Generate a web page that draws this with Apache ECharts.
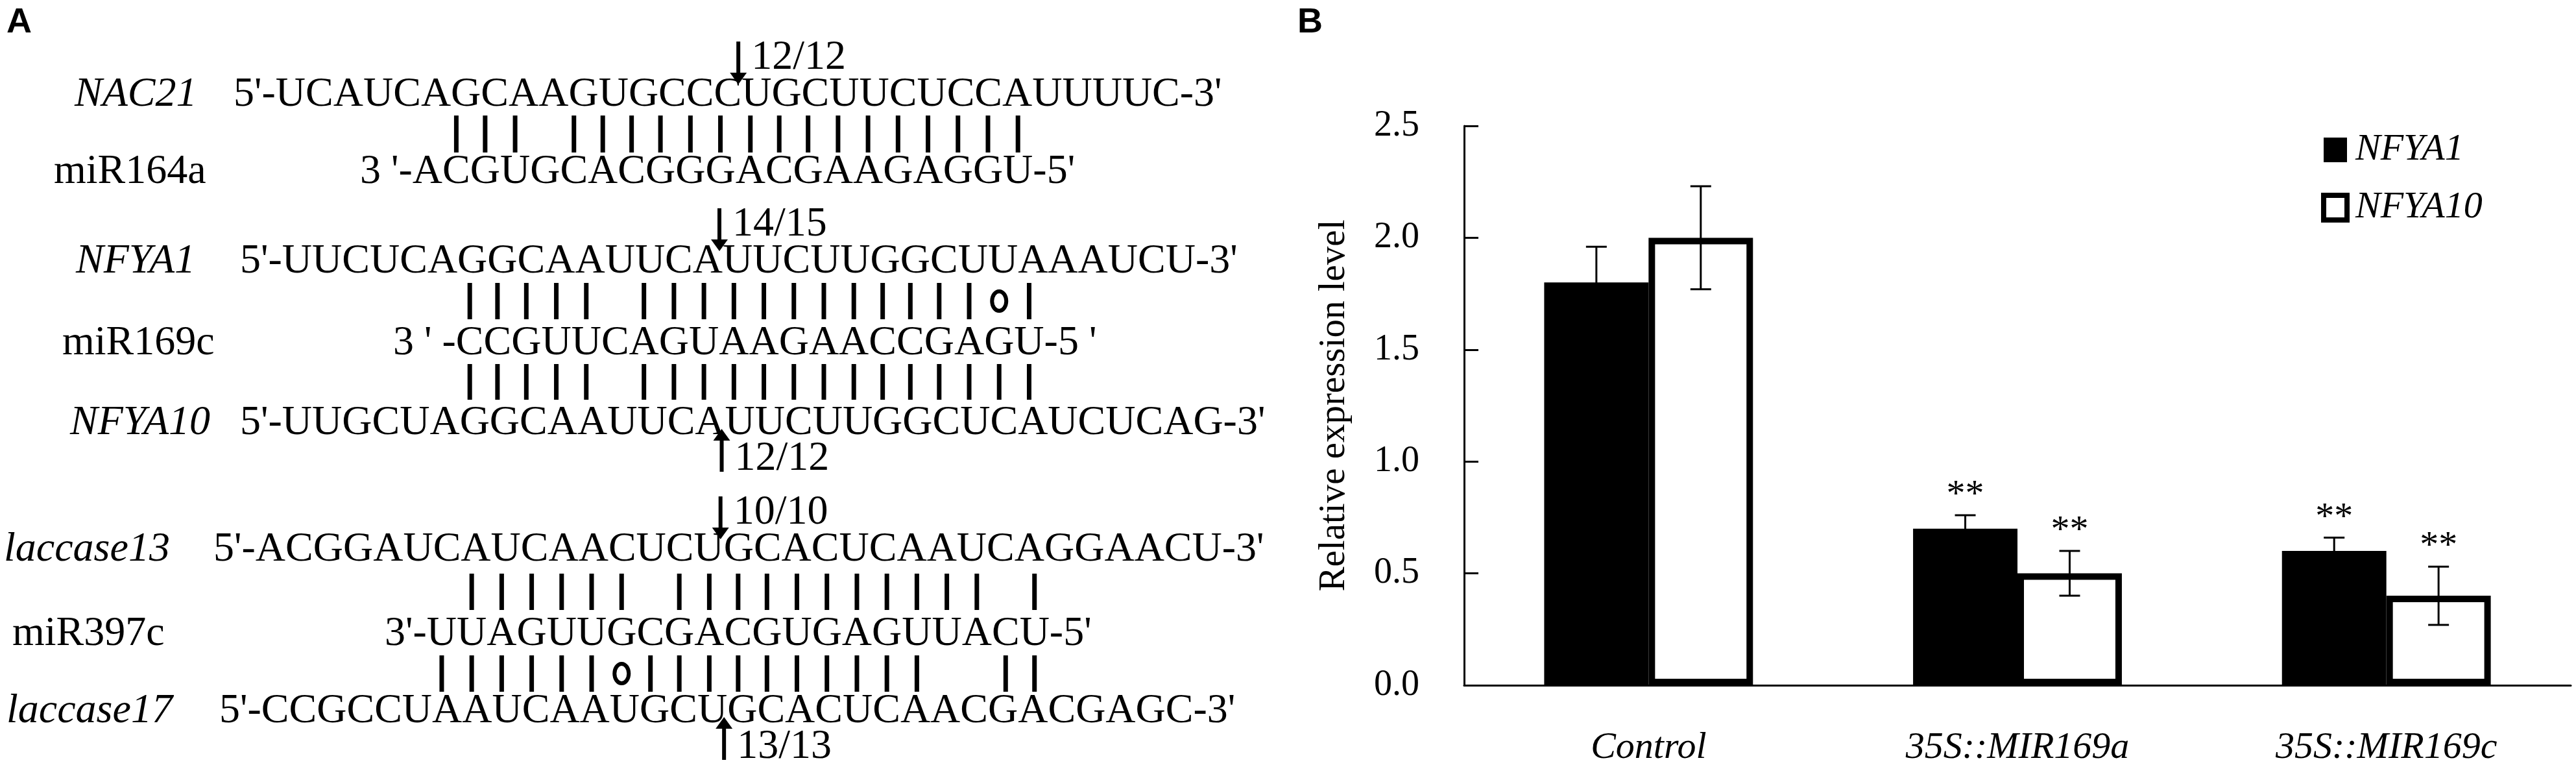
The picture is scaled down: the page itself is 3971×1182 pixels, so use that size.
<!DOCTYPE html>
<html lang="en">
<head>
  <meta charset="UTF-8">
  <title>miRNA targets and NFYA expression</title>
  <script src="https://cdn.jsdelivr.net/npm/echarts@6/dist/echarts.min.js"></script>
  <style>
    html, body { margin: 0; padding: 0; background: #fff; }
    #chart { width: 3971px; height: 1182px; }
  </style>
</head>
<body>
  <div id="chart"></div>
  <script>
    // ---- Panel B data ----
    const categories = ['Control', '35S::MIR169a', '35S::MIR169c'];
    const seriesNames = ['NFYA1', 'NFYA10'];
    const nfya1 = [1.80, 0.70, 0.60];
    const nfya1Err = [0.16, 0.06, 0.06];
    const nfya10 = [2.00, 0.50, 0.40];
    const nfya10Err = [0.23, 0.10, 0.13];
    const nfya1Sig = ['', '**', '**'];
    const nfya10Sig = ['', '**', '**'];
    const yTicks = [0, 0.5, 1.0, 1.5, 2.0, 2.5];

    // ---- Panel A data (sequence rows, top to bottom) ----
    const rowLabels = ['NAC21', 'miR164a', 'NFYA1', 'miR169c', 'NFYA10', 'laccase13', 'miR397c', 'laccase17'];
    const rowItalic = [true, false, true, false, true, true, false, true];
    const rowSeqs = [
      "5'-UCAUCAGCAAGUGCCCUGCUUCUCCAUUUUC-3'",
      "3 '-ACGUGCACGGGACGAAGAGGU-5'",
      "5'-UUCUCAGGCAAUUCAUUCUUGGCUUAAAUCU-3'",
      "3 ' -CCGUUCAGUAAGAACCGAGU-5 '",
      "5'-UUGCUAGGCAAUUCAUUCUUGGCUCAUCUCAG-3'",
      "5'-ACGGAUCAUCAACUCUGCACUCAAUCAGGAACU-3'",
      "3'-UUAGUUGCGACGUGAGUUACU-5'",
      "5'-CCGCCUAAUCAAUGCUGCACUCAACGACGAGC-3'"
    ];
    // pairing marks, one char per miRNA nucleotide: | pair, o wobble, space none
    const pairRows = [1, 3, 3, 6, 6];          // which miRNA row the marks follow
    const pairMarks = [
      ' ||| ||||||||||||||||',
      '||||| ||||||||||||o|',
      '||||| ||||||||||||||',
      ' |||||| ||||||||||| |',
      '||||||o||||||||||  ||'
    ];
    // cleavage sites: target row, nucleotides before the cut, direction, clone count
    const cutRows = [0, 2, 4, 5, 7];
    const cutAfter = [16, 15, 15, 16, 16];
    const cutDir = ['down', 'down', 'up', 'down', 'up'];
    const cutText = ['12/12', '14/15', '12/12', '10/10', '13/13'];

    // ---- layout for panel A ----
    const SEQ_FONT = 64;
    const labelX = [115, 83, 117, 96, 108, 6, 19, 10];
    const seqX = [360, 555, 370, 606, 370, 329, 593, 338];
    const baseY = [168, 287, 425, 551, 674, 869, 999, 1118];
    const pairBand = [[178, 235], [436, 492], [561, 616], [884, 940], [1010, 1066]];

    const serif = "'Liberation Serif', 'Times New Roman', serif";
    const fontOf = (italic, size) => (italic ? 'italic ' : '') + size + 'px ' + serif;

    const mctx = document.createElement('canvas').getContext('2d');
    function textWidth(str, font) {
      mctx.font = font;
      return mctx.measureText(str).width;
    }
    // x centre of every nucleotide of a row
    function nucCenters(row) {
      const s = rowSeqs[row];
      const font = fontOf(false, SEQ_FONT);
      const start = s.indexOf('-') + 1;
      const end = s.lastIndexOf('-');
      const out = [];
      for (let i = start; i < end; i++) {
        out.push(seqX[row] + textWidth(s.slice(0, i), font) + textWidth(s[i], font) / 2);
      }
      return out;
    }
    function nucEdge(row, n) {
      const s = rowSeqs[row];
      const start = s.indexOf('-') + 1;
      return seqX[row] + textWidth(s.slice(0, start + n), fontOf(false, SEQ_FONT));
    }
    const midY = (base, size) => base - 0.3375 * size;

    function buildPanelA() {
      const els = [];
      els.push({
        type: 'text', x: 10, y: 8,
        style: { text: 'A', font: "bold 54px 'Liberation Sans', Arial, sans-serif", fill: '#000', verticalAlign: 'top' }
      });
      rowLabels.forEach((lab, r) => {
        els.push({
          type: 'text', x: labelX[r], y: midY(baseY[r], SEQ_FONT),
          style: { text: lab, font: fontOf(rowItalic[r], SEQ_FONT), fill: '#000', verticalAlign: 'middle' }
        });
        els.push({
          type: 'text', x: seqX[r], y: midY(baseY[r], SEQ_FONT),
          style: { text: rowSeqs[r], font: fontOf(false, SEQ_FONT), fill: '#000', verticalAlign: 'middle' }
        });
      });
      pairMarks.forEach((marks, k) => {
        const xs = nucCenters(pairRows[k]);
        const [y1, y2] = pairBand[k];
        for (let i = 0; i < marks.length; i++) {
          if (marks[i] === '|') {
            els.push({ type: 'rect', shape: { x: xs[i] - 3.5, y: y1, width: 7, height: y2 - y1 }, style: { fill: '#000' } });
          } else if (marks[i] === 'o') {
            els.push({
              type: 'ellipse', shape: { cx: xs[i], cy: (y1 + y2) / 2, rx: 11, ry: 15 },
              style: { fill: 'none', stroke: '#000', lineWidth: 6 }
            });
          }
        }
      });
      cutRows.forEach((r, k) => {
        const x = nucEdge(r, cutAfter[k]) - 5;
        let tip, tail, textBase;
        if (cutDir[k] === 'down') {
          tip = baseY[r] - 38; tail = tip - 66; textBase = tip - 19;
        } else {
          tip = baseY[r] - 13; tail = tip + 66; textBase = tail + 2;
        }
        const head = cutDir[k] === 'down' ? -18 : 18;
        els.push({ type: 'line', shape: { x1: x, y1: tail, x2: x, y2: tip + head }, style: { stroke: '#000', lineWidth: 6 } });
        els.push({
          type: 'polygon', shape: { points: [[x - 13, tip + head], [x + 13, tip + head], [x, tip]] },
          style: { fill: '#000' }
        });
        els.push({
          type: 'text', x: x + 20, y: midY(textBase, SEQ_FONT),
          style: { text: cutText[k], font: fontOf(false, SEQ_FONT), fill: '#000', verticalAlign: 'middle' }
        });
      });
      els.push({
        type: 'text', x: 2000, y: 8,
        style: { text: 'B', font: "bold 54px 'Liberation Sans', Arial, sans-serif", fill: '#000', verticalAlign: 'top' }
      });
      return els;
    }

    // ---- Panel B ----
    const BAR_FRAC = 0.283;
    function errorBars(side, values, errs, sigs) {
      return function (params, api) {
        const i = params.dataIndex;
        const cat = api.value(0);
        const band = api.size([1, 0])[0];
        const dx = side * band * BAR_FRAC / 2;
        const top = api.coord([cat, values[i] + errs[i]]);
        const bot = api.coord([cat, values[i] - errs[i]]);
        const x = top[0] + dx;
        const cap = 16;
        const st = { stroke: '#000', lineWidth: 3 };
        const children = [
          { type: 'line', shape: { x1: x, y1: top[1], x2: x, y2: bot[1] }, style: st },
          { type: 'line', shape: { x1: x - cap, y1: top[1], x2: x + cap, y2: top[1] }, style: st },
          { type: 'line', shape: { x1: x - cap, y1: bot[1], x2: x + cap, y2: bot[1] }, style: st }
        ];
        if (sigs[i]) {
          children.push({
            type: 'text', x: x, y: top[1] - 30,
            style: { text: sigs[i], font: '58px ' + serif, fill: '#000', align: 'center', verticalAlign: 'middle' }
          });
        }
        return { type: 'group', children: children };
      };
    }

    const chart = echarts.init(document.getElementById('chart'), null, { renderer: 'canvas' });
    chart.setOption({
      backgroundColor: '#fff',
      animation: false,
      graphic: buildPanelA(),
      grid: { left: 2257, right: 8, top: 194, bottom: 125, containLabel: false },
      legend: {
        data: [
          { name: seriesNames[0], itemStyle: { color: '#000', borderWidth: 0 } },
          { name: seriesNames[1], itemStyle: { color: '#fff', borderColor: '#000', borderWidth: 8 } }
        ],
        orient: 'vertical',
        left: 3578,
        top: 202,
        padding: 0,
        itemWidth: 36,
        itemHeight: 38,
        itemGap: 31,
        icon: 'rect',
        textStyle: { fontFamily: serif, fontStyle: 'italic', fontSize: 58, color: '#000', padding: [0, 0, 0, 8] }
      },
      xAxis: {
        type: 'category',
        data: categories,
        axisLine: { lineStyle: { color: '#000', width: 3 } },
        axisTick: { inside: true, length: 22, lineStyle: { color: '#000', width: 3 } },
        axisLabel: { margin: 68, fontFamily: serif, fontStyle: 'italic', fontSize: 58, color: '#000' },
        splitLine: { show: false }
      },
      yAxis: {
        type: 'value',
        min: yTicks[0],
        max: yTicks[yTicks.length - 1],
        interval: 0.5,
        name: 'Relative expression level',
        nameLocation: 'middle',
        nameGap: 171,
        nameTextStyle: { fontFamily: serif, fontSize: 57, color: '#000' },
        axisLine: { show: true, lineStyle: { color: '#000', width: 3 } },
        axisTick: { show: true, inside: true, length: 22, lineStyle: { color: '#000', width: 3 } },
        axisLabel: { margin: 69, fontFamily: serif, fontSize: 56, color: '#000', formatter: v => v.toFixed(1) },
        splitLine: { show: false }
      },
      series: [
        {
          name: seriesNames[0], type: 'bar', data: nfya1,
          barWidth: (BAR_FRAC * 100) + '%', barGap: '0%',
          itemStyle: { color: '#000' }
        },
        {
          name: seriesNames[1], type: 'bar', data: nfya10,
          barWidth: (BAR_FRAC * 100) + '%', barGap: '0%',
          itemStyle: { color: '#fff', borderColor: '#000', borderWidth: 10 }
        },
        {
          name: 'err1', type: 'custom', z: 5,
          data: nfya1.map((v, i) => [i, v]),
          encode: { x: 0, y: 1 },
          renderItem: errorBars(-1, nfya1, nfya1Err, nfya1Sig)
        },
        {
          name: 'err2', type: 'custom', z: 5,
          data: nfya10.map((v, i) => [i, v]),
          encode: { x: 0, y: 1 },
          renderItem: errorBars(1, nfya10, nfya10Err, nfya10Sig)
        }
      ]
    });
    window.addEventListener('resize', () => chart.resize());
  </script>
</body>
</html>
